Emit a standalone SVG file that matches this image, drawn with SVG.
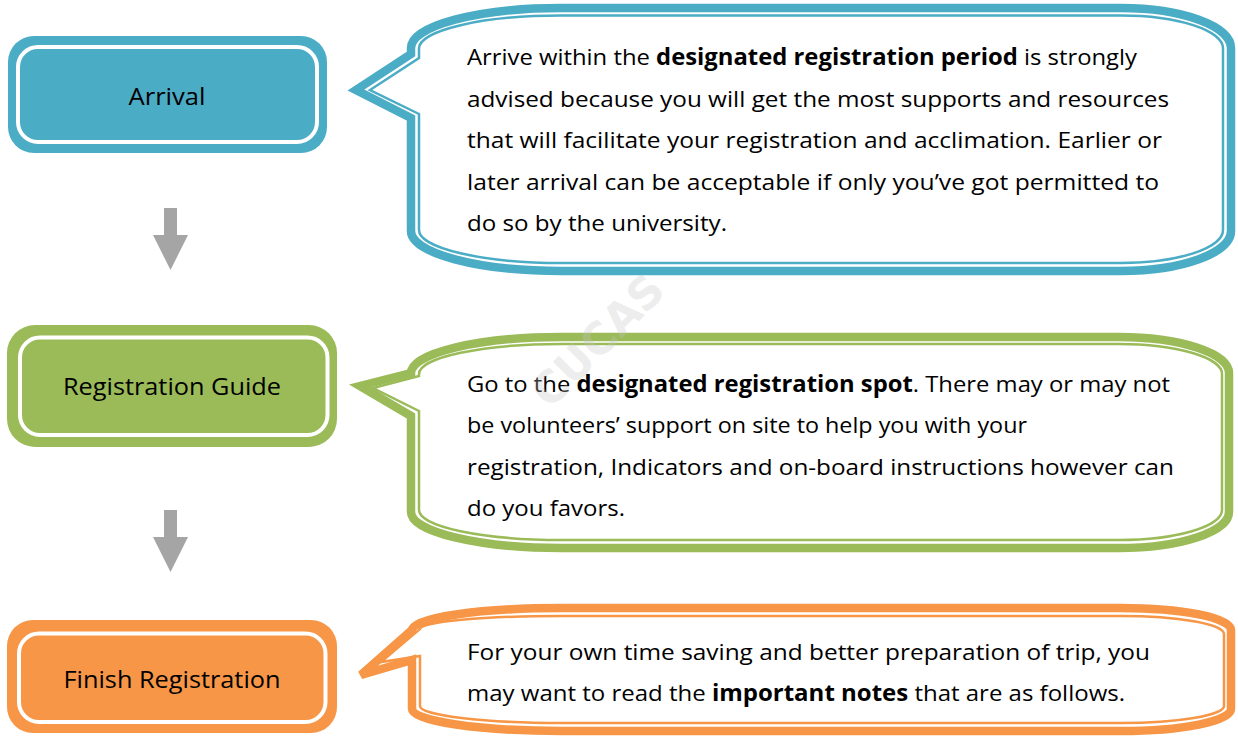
<svg xmlns="http://www.w3.org/2000/svg" width="1238" height="736" viewBox="0 0 1238 736">
<style>
.lbl{font-family:"Open Sans","Noto Sans","Liberation Sans",sans-serif;font-size:24px;fill:#000;text-anchor:middle}
.body{font-family:"Open Sans","Noto Sans","Liberation Sans",sans-serif;font-size:22.5px;fill:#000}
.b{font-weight:bold}
.wm{font-family:"DejaVu Sans","Liberation Sans",sans-serif;font-weight:bold;font-size:44px;fill:#c4c4c4;opacity:0.3}
.arrow{fill:#a5a5a5}
.teal{fill:#4bacc6}.green{fill:#9bbb59}.orange{fill:#f79646}
.inl{stroke:#fff;stroke-width:4}
.co{fill:#fff;stroke-width:8.5;stroke-linejoin:miter}
.ci{fill:none;stroke-width:2.5}
</style>
<rect width="1238" height="736" fill="#fff"/>

<g id="connectors">
<path class="arrow" d="M164,208 L177,208 L177,235 L188,235 L170.5,270 L153,235 L164,235 Z"/>
<path class="arrow" d="M164,510 L177,510 L177,537 L188,537 L170.5,572 L153,537 L164,537 Z"/>
</g>

<g id="node-arrival">
<rect class="teal" x="8" y="36" width="319" height="117" rx="26"/>
<rect class="teal inl" x="18" y="47" width="299" height="95" rx="20"/>
<text class="lbl" x="167" y="105" textLength="77" lengthAdjust="spacingAndGlyphs">Arrival</text>
</g>

<g id="node-registration-guide">
<rect class="green" x="7" y="325" width="330" height="122" rx="28"/>
<rect class="green inl" x="20" y="337.5" width="307.5" height="97.5" rx="20"/>
<text class="lbl" x="172" y="395" textLength="218" lengthAdjust="spacingAndGlyphs">Registration Guide</text>
</g>

<g id="node-finish-registration">
<rect class="orange" x="7" y="620" width="330" height="113" rx="26"/>
<rect class="orange inl" x="19" y="633.5" width="306.5" height="88.5" rx="20"/>
<text class="lbl" x="172" y="688" textLength="217" lengthAdjust="spacingAndGlyphs">Finish Registration</text>
</g>

<g id="callout-arrival">
<path class="co" stroke="#4bacc6" d="M411,118 L356,90 L411,54 L411,48 A150 40 0 0 1 561,8 L1121,8 A110 40 0 0 1 1231,48 L1231,231 A110 40 0 0 1 1121,271 L561,271 A150 40 0 0 1 411,231 Z"/>
<path class="ci" stroke="#4bacc6" d="M419,114 L370,90 L419,58 L419,48.5 A142 33 0 0 1 561,15.5 L1121,15.5 A102 33 0 0 1 1223,48.5 L1223,230 A102 33 0 0 1 1121,263 L561,263 A142 33 0 0 1 419,230 Z"/>
<text class="body" x="467" y="65" textLength="670" lengthAdjust="spacingAndGlyphs">Arrive within the <tspan class="b">designated registration period</tspan> is strongly</text>
<text class="body" x="467" y="107" textLength="702" lengthAdjust="spacingAndGlyphs">advised because you will get the most supports and resources</text>
<text class="body" x="467" y="148" textLength="695" lengthAdjust="spacingAndGlyphs">that will facilitate your registration and acclimation. Earlier or</text>
<text class="body" x="467" y="190" textLength="692" lengthAdjust="spacingAndGlyphs">later arrival can be acceptable if only you’ve got permitted to</text>
<text class="body" x="467" y="231" textLength="260" lengthAdjust="spacingAndGlyphs">do so by the university.</text>
</g>

<g id="callout-registration-guide">
<path class="co" stroke="#9bbb59" d="M411,416 L360,386 L411,373 A150 36 0 0 1 561,337 L1119,337 A110 36 0 0 1 1229,373 L1229,512 A110 36 0 0 1 1119,548 L561,548 A150 36 0 0 1 411,512 Z"/>
<path class="ci" stroke="#9bbb59" d="M419,411 L373,388 L419,376 L419,374 A142 30 0 0 1 561,344 L1119,344 A103 30 0 0 1 1222,374 L1222,510 A103 30 0 0 1 1119,540 L561,540 A142 30 0 0 1 419,510 Z"/>
<text class="body" x="467" y="392" textLength="703" lengthAdjust="spacingAndGlyphs">Go to the <tspan class="b">designated registration spot</tspan>. There may or may not</text>
<text class="body" x="467" y="433" textLength="560" lengthAdjust="spacingAndGlyphs">be volunteers’ support on site to help you with your</text>
<text class="body" x="467" y="474.5" textLength="707" lengthAdjust="spacingAndGlyphs">registration, Indicators and on-board instructions however can</text>
<text class="body" x="467" y="516" textLength="158" lengthAdjust="spacingAndGlyphs">do you favors.</text>
</g>

<g id="callout-finish-registration">
<path class="co" stroke="#f79646" d="M412,660 L361,675 L412,630 A150 22 0 0 1 562,608 L1121,608 A110 22 0 0 1 1231,630 L1231,709 A110 22 0 0 1 1121,731 L562,731 A150 22 0 0 1 412,709 Z"/>
<path class="ci" stroke="#f79646" d="M420,656 L381,662 L420,629 A142 13 0 0 1 562,616 L1121,616 A103 18 0 0 1 1224,634 L1224,706 A103 17 0 0 1 1121,723 L562,723 A142 17 0 0 1 420,706 Z"/>
<text class="body" x="467" y="660" textLength="683" lengthAdjust="spacingAndGlyphs">For your own time saving and better preparation of trip, you</text>
<text class="body" x="467" y="701" textLength="658" lengthAdjust="spacingAndGlyphs">may want to read the <tspan class="b">important notes</tspan> that are as follows.</text>
</g>

<g id="watermark">
<text class="wm" transform="translate(550,410) rotate(-45)">CUCAS</text>
</g>
</svg>
